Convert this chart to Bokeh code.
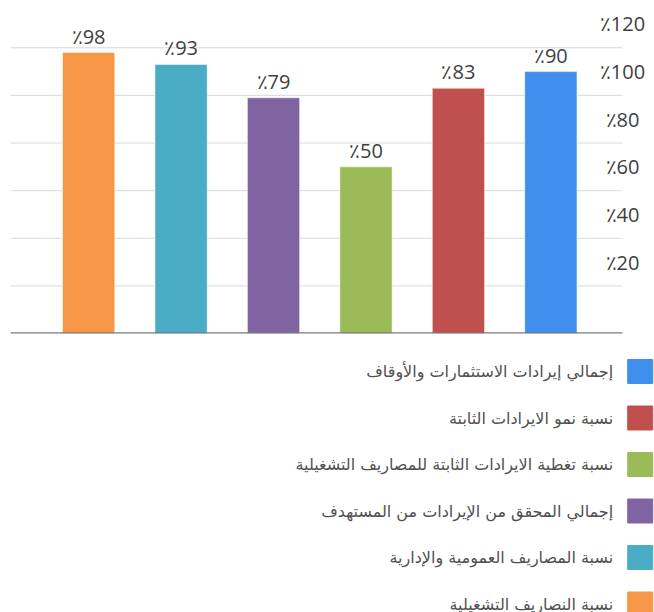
from bokeh.plotting import figure
from bokeh.models import Range1d, ColumnDataSource
from bokeh.layouts import column
from bokeh.core.properties import value
from bokeh.embed import file_html
from bokeh.resources import INLINE

# ---- data (legend order, top to bottom; bars are drawn right to left) ----
series_names = [
    "إجمالي إيرادات الاستثمارات والأوقاف",
    "نسبة نمو الايرادات الثابتة",
    "نسبة تغطية الايرادات الثابتة للمصاريف التشغيلية",
    "إجمالي المحقق من الإيرادات من المستهدف",
    "نسبة المصاريف العمومية والإدارية",
    "نسبة النصاريف التشغيلية",
]
series_values = [90, 83, 50, 79, 93, 98]
series_colors = ["#408EED", "#C0504D", "#9BBB59", "#8064A2", "#4BACC6", "#F79646"]
grid_ticks = [0, 20, 40, 60, 80, 100]
label_ticks = [20, 40, 60, 80, 100, 120]
y_min, y_max = -20, 116.5

n = len(series_names)
bar_x = [n - 1 - i for i in range(n)]  # right-to-left order
bar_labels = ["٪%d" % v for v in series_values]

num_font = value("Open Sans")
ar_font = value("DejaVu Sans")

# plot area geometry (data units on x: one category per unit)
x_start = -0.845
grid_end = n - 1 + 0.775        # where gridlines / baseline stop
x_end = grid_end + 0.346        # extra room on the right for tick labels

# ---- main chart ----
p = figure(width=654, height=340, output_backend="svg", toolbar_location=None,
           x_range=Range1d(x_start, x_end), y_range=Range1d(y_min, y_max),
           x_axis_location=None, y_axis_location=None,
           min_border_left=10, min_border_right=0, min_border_top=8, min_border_bottom=7)
p.outline_line_color = None
p.xgrid.visible = False
p.ygrid.visible = False

grid_src = ColumnDataSource(dict(x0=[x_start] * len(grid_ticks), x1=[grid_end] * len(grid_ticks),
                                 y=grid_ticks))
p.segment(x0="x0", x1="x1", y0="y", y1="y", source=grid_src, line_color="#d9d9d9", line_width=1)

src = ColumnDataSource(dict(x=bar_x, top=series_values, color=series_colors, label=bar_labels))
p.vbar(x="x", top="top", bottom=y_min, width=0.565, color="color", source=src,
       line_color="white", line_alpha=0.5, line_width=1)

p.text(x="x", y="top", text="label", source=src, text_align="center", text_baseline="bottom",
       y_offset=-3, text_font=num_font, text_font_size="20px", text_color="#404040")

# baseline
p.segment(x0=[x_start], x1=[grid_end], y0=[y_min], y1=[y_min], line_color="#7a7a7a", line_width=2.5)

# y tick labels, centred in each band above their gridline, centred on the grid end
tick_src = ColumnDataSource(dict(
    x=[grid_end] * len(label_ticks),
    y=[t - 10 for t in label_ticks],
    text=["٪%d" % t for t in label_ticks],
))
p.text(x="x", y="y", text="text", source=tick_src, text_align="center", text_baseline="middle",
       text_font=num_font, text_font_size="20px", text_color="#404040")

# ---- legend (squares on the right, RTL) ----
leg_h = 272
top_px, spacing = 31, 46.5
lg = figure(width=654, height=leg_h, output_backend="svg", toolbar_location=None,
            x_range=Range1d(0, 654),
            y_range=Range1d((leg_h - top_px) / spacing, -top_px / spacing),
            x_axis_location=None, y_axis_location=None,
            min_border=0, min_border_left=0, min_border_right=0, min_border_top=0, min_border_bottom=0)
lg.outline_line_color = None
lg.xgrid.visible = False
lg.ygrid.visible = False

leg_src = ColumnDataSource(dict(y=list(range(n)), name=series_names, color=series_colors,
                                sx=[639.5] * n, tx=[612] * n))
lg.rect(x="sx", y="y", width=25, height=24, width_units="screen", height_units="screen",
        color="color", source=leg_src)
lg.text(x="tx", y="y", text="name", source=leg_src, text_align="right", text_baseline="middle",
        text_font=ar_font, text_font_size="16px", text_color="#505050")

layout = column(p, lg, spacing=0)
open("out.html", "w").write(file_html(layout, INLINE))
